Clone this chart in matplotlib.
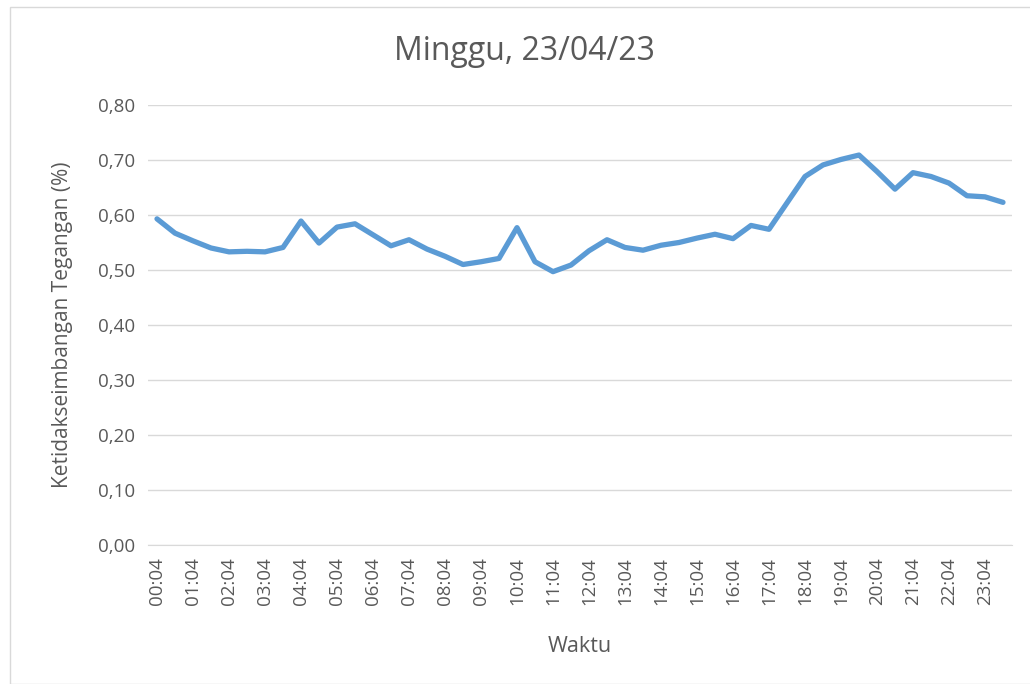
import matplotlib
matplotlib.use("Agg")
import matplotlib.pyplot as plt
from matplotlib.patches import Rectangle

plt.rcParams['font.family'] = ['Open Sans', 'DejaVu Sans']

times = [f"{h:02d}:{m:02d}" for h in range(24) for m in (4, 34)]
values = [0.593, 0.567, 0.553, 0.540, 0.533, 0.534, 0.533, 0.541,
          0.589, 0.549, 0.578, 0.584, 0.564, 0.544, 0.555, 0.538,
          0.525, 0.510, 0.515, 0.521, 0.577, 0.515, 0.497, 0.509,
          0.535, 0.555, 0.541, 0.536, 0.545, 0.550, 0.558, 0.565,
          0.557, 0.581, 0.574, 0.622, 0.670, 0.691, 0.701, 0.709,
          0.679, 0.647, 0.677, 0.670, 0.658, 0.635, 0.633, 0.623]
yticks = [0.0, 0.1, 0.2, 0.3, 0.4, 0.5, 0.6, 0.7, 0.8]
title = "Minggu, 23/04/23"
xlabel = "Waktu"
ylabel = "Ketidakseimbangan Tegangan (%)"

txt = '#595959'
fig = plt.figure(figsize=(10.30, 6.84), dpi=100)
fig.patches.append(Rectangle((10/1030, 0), 1.2, (684-7)/684, transform=fig.transFigure,
                             fill=False, edgecolor='#D9D9D9', linewidth=1))
ax = fig.add_axes([148/1030, 1-545/684, (1012-148)/1030, (545-105)/684])

x = list(range(len(values)))
ax.plot(x, values, color='#5B9BD5', linewidth=3.8, solid_joinstyle='round', solid_capstyle='round', zorder=3)

ax.set_xlim(-0.5, len(values) - 0.5)
ax.set_ylim(0, 0.8)
ax.set_yticks(yticks)
ax.set_yticklabels([f"{v:.2f}".replace('.', ',') for v in yticks], color=txt, fontsize=13.5)
ax.set_xticks(x[::2])
ax.set_xticklabels(times[::2], rotation=90, color=txt, fontsize=13.5)
ax.tick_params(length=0, pad=9)
ax.grid(axis='y', color='#D9D9D9', linewidth=1)
ax.set_axisbelow(True)
for s in ['left', 'right', 'top']:
    ax.spines[s].set_visible(False)
ax.spines['bottom'].set_color('#D9D9D9')

fig.text(524/1030, 1-52/684, title, color=txt, fontsize=23, ha='center', va='center')
ax.set_xlabel(xlabel, color=txt, fontsize=15.5, labelpad=22)
ax.set_ylabel(ylabel, color=txt, fontsize=15, labelpad=18)

fig.savefig("out.png", dpi=100)
